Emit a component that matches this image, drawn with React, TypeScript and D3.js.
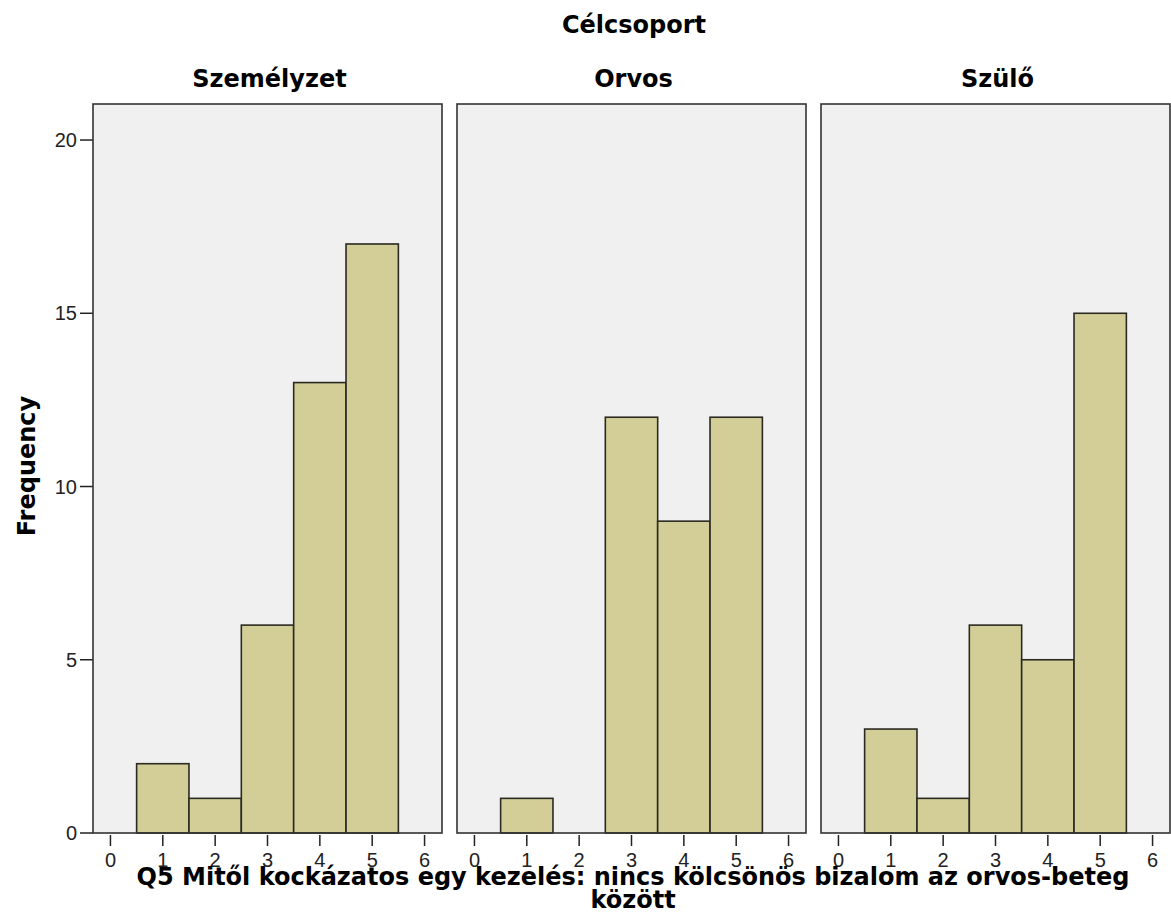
import React from "react";
import * as d3 from "d3";

const panels = ["Személyzet", "Orvos", "Szülő"];
const binValues = [1, 2, 3, 4, 5];
const szemelyzetCounts = [2, 1, 6, 13, 17];
const orvosCounts = [1, 0, 12, 9, 12];
const szuloCounts = [3, 1, 6, 5, 15];
const seriesCounts = [szemelyzetCounts, orvosCounts, szuloCounts];
const xTicks = [0, 1, 2, 3, 4, 5, 6];
const yTicks = [0, 5, 10, 15, 20];
const title = "Célcsoport";
const yLabel = "Frequency";
const xLabelLines = [
  "Q5 Mitől kockázatos egy kezelés: nincs kölcsönös bizalom az orvos-beteg",
  "között",
];

const W = 1171;
const H = 920;
const panelLefts = [93, 457, 821];
const panelW = 349;
const top = 104;
const bottom = 833;

const BOLD = "'DejaVu Sans', sans-serif";
const REG = "'Liberation Sans', Arial, sans-serif";

export default function App() {
  const y = d3.scaleLinear().domain([0, 21.04]).range([bottom, top]);
  return (
    <svg
      width={W}
      height={H}
      style={{ position: "absolute", left: 0, top: 0, background: "#fff" }}
    >
      <text
        x={634}
        y={33}
        textAnchor="middle"
        fontFamily={BOLD}
        fontWeight="bold"
        fontSize={24}
        fill="#000"
      >
        {title}
      </text>
      <text
        transform={`translate(35,466) rotate(-90)`}
        textAnchor="middle"
        fontFamily={BOLD}
        fontWeight="bold"
        fontSize={24}
        fill="#000"
      >
        {yLabel}
      </text>
      {yTicks.map((t) => (
        <g key={"yt" + t}>
          <line x1={80} x2={93} y1={y(t)} y2={y(t)} stroke="#222" strokeWidth={1.5} />
          <text
            x={77}
            y={y(t) + 7}
            textAnchor="end"
            fontFamily={REG}
            fontSize={20}
            fill="#222"
          >
            {t}
          </text>
        </g>
      ))}
      {panels.map((name, pi) => {
        const left = panelLefts[pi];
        const x = d3
          .scaleLinear()
          .domain([-1 / 3, 6 + 1 / 3])
          .range([left, left + panelW]);
        const counts = seriesCounts[pi];
        return (
          <g key={name}>
            <text
              x={left + panelW / 2 + 2}
              y={87}
              textAnchor="middle"
              fontFamily={BOLD}
              fontWeight="bold"
              fontSize={24}
              fill="#000"
            >
              {name}
            </text>
            <rect
              x={left}
              y={top}
              width={panelW}
              height={bottom - top}
              fill="#f0f0f0"
            />
            {binValues.map((b, i) =>
              counts[i] > 0 ? (
                <rect
                  key={b}
                  x={x(b - 0.5)}
                  y={y(counts[i])}
                  width={x(b + 0.5) - x(b - 0.5)}
                  height={y(0) - y(counts[i])}
                  fill="#d3ce97"
                  stroke="#2a2a22"
                  strokeWidth={1.6}
                />
              ) : null
            )}
            <rect
              x={left}
              y={top}
              width={panelW}
              height={bottom - top}
              fill="none"
              stroke="#333"
              strokeWidth={1.6}
            />
            {xTicks.map((t) => (
              <g key={"xt" + t}>
                <line
                  x1={x(t)}
                  x2={x(t)}
                  y1={835}
                  y2={846}
                  stroke="#222"
                  strokeWidth={1.5}
                />
                <text
                  x={x(t)}
                  y={867}
                  textAnchor="middle"
                  fontFamily={REG}
                  fontSize={20}
                  fill="#222"
                >
                  {t}
                </text>
              </g>
            ))}
          </g>
        );
      })}
      {xLabelLines.map((l, i) => (
        <text
          key={i}
          x={633}
          y={885 + i * 23}
          textAnchor="middle"
          fontFamily={BOLD}
          fontWeight="bold"
          fontSize={24}
          fill="#000"
        >
          {l}
        </text>
      ))}
    </svg>
  );
}
